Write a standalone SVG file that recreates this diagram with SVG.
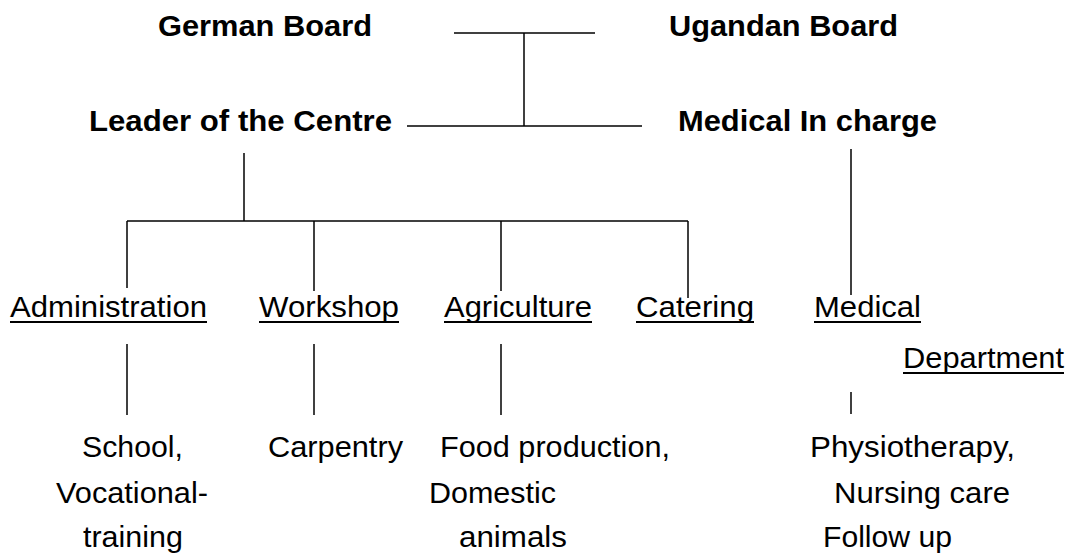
<svg xmlns="http://www.w3.org/2000/svg" width="1070" height="558" viewBox="0 0 1070 558">
<style>
text{font-family:"Liberation Sans",Arial,sans-serif;font-size:29px;fill:#000}
.b{font-weight:bold}
.c line{stroke:#000;stroke-width:1.5}
.u{stroke:#000;stroke-width:2}
</style>
<rect width="1070" height="558" fill="#fff"/>
<g class="c" id="connectors">
<line x1="454" y1="33" x2="595" y2="33"/>
<line x1="524" y1="33" x2="524" y2="126"/>
<line x1="407" y1="126" x2="642" y2="126"/>
<line x1="244" y1="153" x2="244" y2="221"/>
<line x1="127" y1="221" x2="688" y2="221"/>
<line x1="127" y1="221" x2="127" y2="288"/>
<line x1="314" y1="221" x2="314" y2="291"/>
<line x1="501" y1="221" x2="501" y2="291"/>
<line x1="688" y1="221" x2="688" y2="298"/>
<line x1="851" y1="149" x2="851" y2="295"/>
<line x1="127" y1="344" x2="127" y2="415"/>
<line x1="314" y1="344" x2="314" y2="415"/>
<line x1="501" y1="344" x2="501" y2="415"/>
<line x1="851" y1="392" x2="851" y2="414"/>
</g>
<g id="german-board"><text class="b" x="158" y="36" textLength="214" lengthAdjust="spacingAndGlyphs">German Board</text></g>
<g id="ugandan-board"><text class="b" x="669" y="36" textLength="229" lengthAdjust="spacingAndGlyphs">Ugandan Board</text></g>
<g id="leader"><text class="b" x="89" y="131" textLength="303" lengthAdjust="spacingAndGlyphs">Leader of the Centre</text></g>
<g id="medical-in-charge"><text class="b" x="678" y="131" textLength="259" lengthAdjust="spacingAndGlyphs">Medical In charge</text></g>
<g id="administration"><text x="10" y="317" textLength="197" lengthAdjust="spacingAndGlyphs">Administration</text><line class="u" x1="10" y1="322" x2="207" y2="322"/></g>
<g id="workshop"><text x="259" y="317" textLength="140" lengthAdjust="spacingAndGlyphs">Workshop</text><line class="u" x1="259" y1="322" x2="399" y2="322"/></g>
<g id="agriculture"><text x="444" y="317" textLength="148" lengthAdjust="spacingAndGlyphs">Agriculture</text><line class="u" x1="444" y1="322" x2="592" y2="322"/></g>
<g id="catering"><text x="636" y="317" textLength="118" lengthAdjust="spacingAndGlyphs">Catering</text><line class="u" x1="636" y1="322" x2="754" y2="322"/></g>
<g id="medical-department"><text x="814" y="317" textLength="107" lengthAdjust="spacingAndGlyphs">Medical</text><line class="u" x1="814" y1="322" x2="921" y2="322"/>
<text x="903" y="368" textLength="161" lengthAdjust="spacingAndGlyphs">Department</text><line class="u" x1="903" y1="373" x2="1064" y2="373"/></g>
<g id="school"><text x="82" y="457" textLength="101" lengthAdjust="spacingAndGlyphs">School,</text>
<text x="56" y="503" textLength="152" lengthAdjust="spacingAndGlyphs">Vocational-</text>
<text x="83" y="547" textLength="100" lengthAdjust="spacingAndGlyphs">training</text></g>
<g id="carpentry"><text x="268" y="457" textLength="135" lengthAdjust="spacingAndGlyphs">Carpentry</text></g>
<g id="food"><text x="440" y="457" textLength="230" lengthAdjust="spacingAndGlyphs">Food production,</text>
<text x="429" y="503" textLength="127" lengthAdjust="spacingAndGlyphs">Domestic</text>
<text x="459" y="547" textLength="108" lengthAdjust="spacingAndGlyphs">animals</text></g>
<g id="physio"><text x="810" y="457" textLength="205" lengthAdjust="spacingAndGlyphs">Physiotherapy,</text>
<text x="834" y="503" textLength="176" lengthAdjust="spacingAndGlyphs">Nursing care</text>
<text x="823" y="547" textLength="129" lengthAdjust="spacingAndGlyphs">Follow up</text></g>
</svg>
